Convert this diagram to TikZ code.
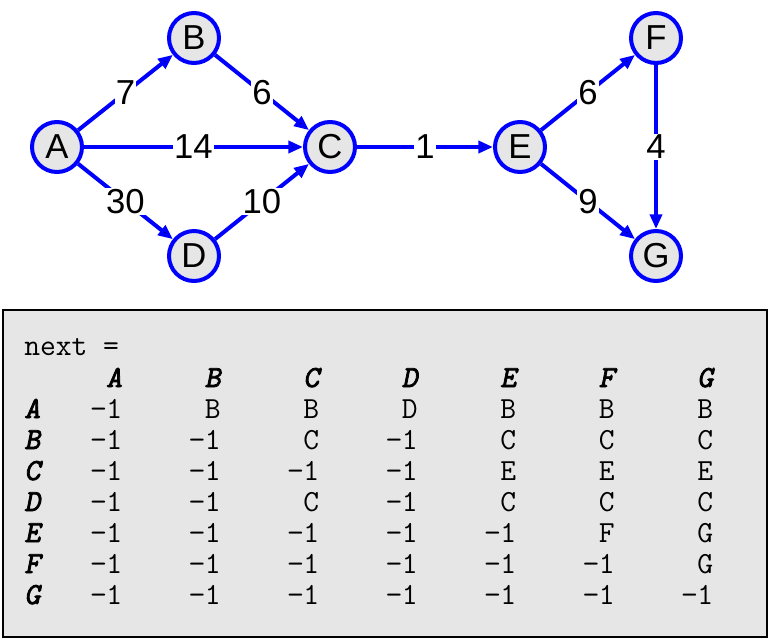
\documentclass[tikz,border=0pt]{standalone}
\usepackage{fontspec}
\setmainfont{Liberation Sans}
\newfontfamily\headfont{lmmono10-regular.otf}[FakeBold=2.5,FakeSlant=0.2]
\usetikzlibrary{arrows.meta}
\definecolor{nodegray}{HTML}{E6E6E6}
\definecolor{panelgray}{HTML}{E6E6E6}
\tikzset{
  vertex/.style={circle,draw=blue,line width=3pt,fill=nodegray,minimum size=37.5pt,inner sep=0pt,
    font=\fontsize{26}{26}\selectfont},
  wedge/.style={-{Triangle[length=11pt,width=9pt]},draw=blue,line width=3pt},
  wlabel/.style={fill=white,inner sep=1pt,font=\fontsize{26}{26}\selectfont},
  cell/.style={anchor=base east,inner sep=0pt,font=\ttfamily\fontsize{23}{23}\selectfont},
  headcell/.style={cell,font=\headfont\fontsize{23}{23}\selectfont}
}
\begin{document}
\begin{tikzpicture}[x=0.75pt,y=-0.75pt]
  \useasboundingbox (0,0) rectangle (771,640);

  % graph
  \draw (57,147) node[vertex] (A) {A};
  \draw (194,38) node[vertex] (B) {B};
  \draw (330,147) node[vertex] (C) {C};
  \draw (194,256) node[vertex] (D) {D};
  \draw (520,147) node[vertex] (E) {E};
  \draw (656,38) node[vertex] (F) {F};
  \draw (656,256) node[vertex] (G) {G};

  \path[wedge] (A) edge node[wlabel] {7} (B);
  \path[wedge] (B) edge node[wlabel] {6} (C);
  \path[wedge] (A) edge node[wlabel] {14} (C);
  \path[wedge] (A) edge node[wlabel] {30} (D);
  \path[wedge] (D) edge node[wlabel] {10} (C);
  \path[wedge] (C) edge node[wlabel] {1} (E);
  \path[wedge] (E) edge node[wlabel] {6} (F);
  \path[wedge] (F) edge node[wlabel] {4} (G);
  \path[wedge] (E) edge node[wlabel] {9} (G);

  % table of next hops
  \draw[line width=1.5pt,fill=panelgray] (3,310) rectangle (767,637);
  \draw (24,355) node[cell,anchor=base west] (title) {next =};
  \foreach \h [count=\j] in {A,B,C,D,E,F,G}
    \draw (24+98.5*\j,387) node[headcell] (h\h) {\h};
  \foreach \r/\vals [count=\i] in {A/{−1,B,B,D,B,B,B},B/{−1,−1,C,−1,C,C,C},C/{−1,−1,−1,−1,E,E,E},
      D/{−1,−1,C,−1,C,C,C},E/{−1,−1,−1,−1,−1,F,G},F/{−1,−1,−1,−1,−1,−1,G},G/{−1,−1,−1,−1,−1,−1,−1}} {
    \draw (24,387+31*\i) node[headcell,anchor=base west] (r\r) {\r};
    \foreach \v [count=\j] in \vals
      \draw (24+98.5*\j,387+31*\i) node[cell] (n\r\j) {\v};
  }
\end{tikzpicture}
\end{document}
